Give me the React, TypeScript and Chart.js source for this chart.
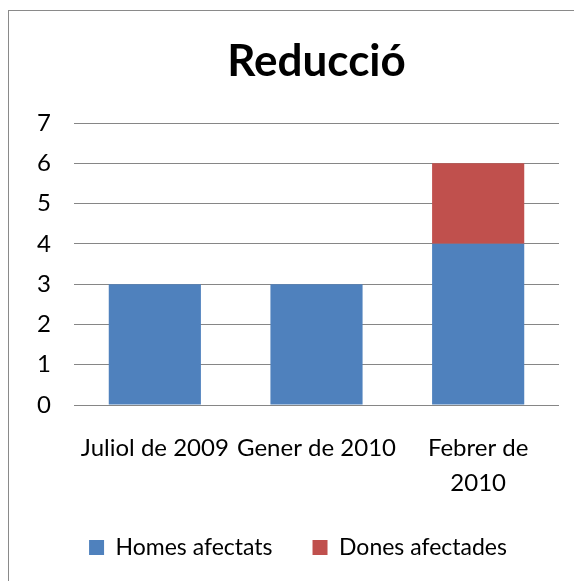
import React, { useEffect, useRef } from "react";
import { Chart, registerables } from "chart.js";

Chart.register(...registerables);

const categories: (string | string[])[] = ["Juliol de 2009", "Gener de 2010", ["Febrer de", "2010"]];
const homesAfectats = [3, 3, 4];
const donesAfectades = [0, 0, 2];
const yTicks = [0, 1, 2, 3, 4, 5, 6, 7];

const FONT = "Lato, 'Liberation Sans', sans-serif";

export default function App() {
  const ref = useRef<HTMLCanvasElement | null>(null);
  useEffect(() => {
    if (!ref.current) return;
    const chart = new Chart(ref.current, {
      type: "bar",
      data: {
        labels: categories,
        datasets: [
          {
            label: "Homes afectats",
            data: homesAfectats,
            backgroundColor: "#4F81BD",
            categoryPercentage: 0.57,
            barPercentage: 1,
          },
          {
            label: "Dones afectades",
            data: donesAfectades,
            backgroundColor: "#C0504D",
            categoryPercentage: 0.57,
            barPercentage: 1,
          },
        ],
      },
      options: {
        animation: false,
        responsive: false,
        maintainAspectRatio: false,
        layout: { padding: { left: 28, right: 23, top: 0, bottom: 12 } },
        plugins: {
          title: {
            display: true,
            fullSize: false,
            text: "Reducció",
            color: "#000",
            font: { family: FONT, size: 44, weight: "bold", lineHeight: 1.2 },
            padding: { top: 24, bottom: 35.2 },
          },
          legend: {
            position: "bottom",
            labels: {
              color: "#000",
              font: { family: FONT, size: 23 },
              boxWidth: 15,
              boxHeight: 15,
              padding: 40,
            },
          },
          tooltip: { enabled: false },
        },
        scales: {
          x: {
            stacked: true,
            grid: { display: false, drawTicks: false },
            border: { display: false },
            afterFit: (axis: any) => {
              axis.height = 91;
            },
            ticks: {
              color: "#000",
              font: { family: FONT, size: 24, lineHeight: 35 / 24 },
              padding: 25.5,
              maxRotation: 0,
              autoSkip: false,
            },
          },
          y: {
            stacked: true,
            min: 0,
            max: 7,
            afterBuildTicks: (axis: any) => {
              axis.ticks = yTicks.map((v) => ({ value: v }));
            },
            afterFit: (axis: any) => {
              axis.width = 37;
            },
            grid: { color: "#868686", lineWidth: 1, drawTicks: false },
            border: { display: false },
            ticks: {
              color: "#000",
              font: { family: FONT, size: 24 },
              padding: 23,
            },
          },
        },
      },
    });
    return () => chart.destroy();
  }, []);
  return (
    <div
      style={{
        marginTop: 2,
        width: 574,
        height: 571,
        overflow: "hidden",
        borderLeft: "1px solid #8a8a8a",
        borderTop: "1px solid #8a8a8a",
        boxSizing: "border-box",
        background: "#fff",
      }}
    >
      <canvas ref={ref} width={573} height={570} style={{ display: "block" }} />
    </div>
  );
}
